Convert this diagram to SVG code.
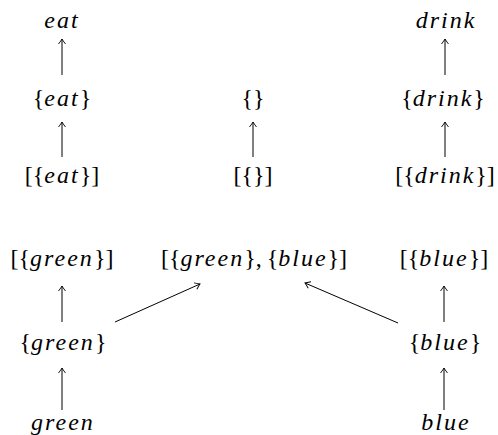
<svg xmlns="http://www.w3.org/2000/svg" width="498" height="435" viewBox="0 0 498 435">
<defs>
<style>
text { font-family: "Liberation Serif", serif; font-size: 24px; fill: #000; text-anchor: middle; }
.i { font-style: italic; letter-spacing: 2px; }
.c line { stroke: #000; stroke-width: 1; fill: none; marker-end: url(#ah); }
</style>
<marker id="ah" markerWidth="10" markerHeight="10" refX="0" refY="0" viewBox="-6 -5 8 10" orient="auto" markerUnits="userSpaceOnUse">
<path d="M -5,-3.5 Q -1.5,-0.8 0,0 Q -1.5,0.8 -5,3.5" fill="none" stroke="#000" stroke-width="0.9"/>
</marker>
</defs>
<rect width="498" height="435" fill="#fff"/>
<g class="c" id="connectors">
<line x1="62" y1="75" x2="62" y2="39"/>
<line x1="62" y1="157" x2="62" y2="122"/>
<line x1="253" y1="157" x2="253" y2="122"/>
<line x1="445" y1="75" x2="445" y2="39"/>
<line x1="445" y1="157" x2="445" y2="122"/>
<line x1="62" y1="322" x2="62" y2="286"/>
<line x1="62" y1="410" x2="62" y2="368"/>
<line x1="444" y1="322" x2="444" y2="286"/>
<line x1="444" y1="410" x2="444" y2="368"/>
<line x1="115" y1="322" x2="200" y2="284"/>
<line x1="398" y1="323" x2="305" y2="283"/>
</g>
<g id="eat"><text x="62" y="28"><tspan class="i">eat</tspan></text></g>
<g id="set-eat"><text x="62" y="106">{<tspan class="i">eat</tspan>}</text></g>
<g id="list-eat"><text x="62" y="183">[{<tspan class="i">eat</tspan>}]</text></g>
<g id="set-empty"><text x="253" y="106">{}</text></g>
<g id="list-empty"><text x="253" y="183">[{}]</text></g>
<g id="drink"><text x="446" y="28"><tspan class="i">drink</tspan></text></g>
<g id="set-drink"><text x="443" y="106">{<tspan class="i">drink</tspan>}</text></g>
<g id="list-drink"><text x="445" y="183">[{<tspan class="i">drink</tspan>}]</text></g>
<g id="list-green"><text x="62" y="266">[{<tspan class="i">green</tspan>}]</text></g>
<g id="list-green-blue"><text x="254" y="266">[{<tspan class="i">green</tspan>},<tspan dx="5">{</tspan><tspan class="i">blue</tspan>}]</text></g>
<g id="list-blue"><text x="444" y="266">[{<tspan class="i">blue</tspan>}]</text></g>
<g id="set-green"><text x="63" y="350">{<tspan class="i">green</tspan>}</text></g>
<g id="set-blue"><text x="445" y="350">{<tspan class="i">blue</tspan>}</text></g>
<g id="green"><text x="63" y="430"><tspan class="i">green</tspan></text></g>
<g id="blue"><text x="446" y="430"><tspan class="i">blue</tspan></text></g>
</svg>
